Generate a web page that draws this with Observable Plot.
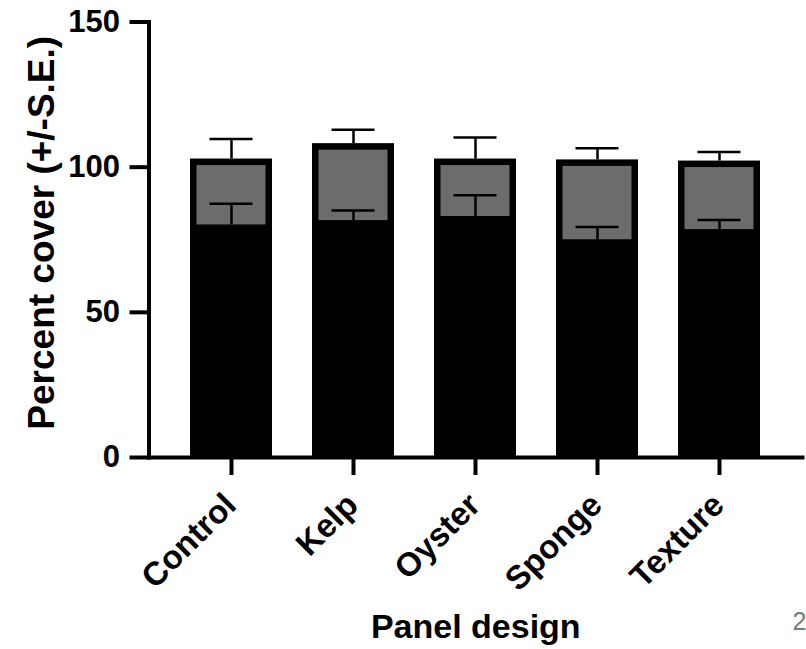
<!DOCTYPE html>
<html>
<head>
<meta charset="utf-8">
<script src="https://cdn.jsdelivr.net/npm/d3@7"></script>
<script src="https://cdn.jsdelivr.net/npm/@observablehq/plot@0.6"></script>
<style>
  html, body { margin: 0; padding: 0; background: #fff; }
  #chart { width: 806px; height: 649px; }
</style>
</head>
<body>
<div id="chart"></div>
<script>
// ---- data ----
const categories = ["Control", "Kelp", "Oyster", "Sponge", "Texture"];
// lower (black) component: mean and S.E.
const blackMean = [80.1, 81.6, 83.0, 75.0, 78.5];
const blackSE   = [7.3, 3.5, 7.3, 4.4, 3.3];
// upper (grey) component stacked on top: mean, and S.E. of the total
const greyMean  = [22.7, 26.5, 19.8, 27.5, 23.6];
const totalSE   = [6.9, 4.8, 7.4, 4.0, 3.1];
const yTicks = [0, 50, 100, 150];
const xTitle = "Panel design";
const yTitle = "Percent cover (+/-S.E.)";
const pageNote = "2";

const rows = categories.map((c, i) => ({
  cat: c,
  b: blackMean[i],
  bErr: blackMean[i] + blackSE[i],
  total: blackMean[i] + greyMean[i],
  tErr: blackMean[i] + greyMean[i] + totalSE[i]
}));

const FONT = "'Liberation Sans', Arial, Helvetica, sans-serif";

const chart = Plot.plot({
  width: 806,
  height: 649,
  marginLeft: 148.5,
  marginRight: 4,
  marginTop: 21.5,
  marginBottom: 192,
  style: {fontFamily: FONT, fontWeight: "bold", fontSize: "30px", color: "#000", background: "#fff"},
  x: {type: "band", domain: categories, range: [168.75, 781.25], paddingInner: 0.33, paddingOuter: 0.165, align: 0.5},
  y: {domain: [0, 150]},
  marks: [
    // full bar in black (forms the black lower part and the thick border)
    Plot.barY(rows, {x: "cat", y1: 0, y2: "total", fill: "#000"}),
    // grey upper component inside the border
    Plot.barY(rows, {x: "cat", y1: "b", y2: "total", fill: "#6c6c6c", insetLeft: 6.5, insetRight: 6.5, insetTop: 6.5}),
    // error bars: lower component
    Plot.ruleX(rows, {x: "cat", y1: "b", y2: "bErr", stroke: "#000", strokeWidth: 2.5}),
    Plot.tickY(rows, {x: "cat", y: "bErr", stroke: "#000", strokeWidth: 2.5, insetLeft: 19.5, insetRight: 19.5}),
    // error bars: total
    Plot.ruleX(rows, {x: "cat", y1: "total", y2: "tErr", stroke: "#000", strokeWidth: 2.5}),
    Plot.tickY(rows, {x: "cat", y: "tErr", stroke: "#000", strokeWidth: 2.5, insetLeft: 19.5, insetRight: 19.5}),
    // axis lines
    Plot.frame({anchor: "left", stroke: "#000", strokeWidth: 4, strokeLinecap: "square"}),
    Plot.frame({anchor: "bottom", stroke: "#000", strokeWidth: 4}),
    // y axis
    Plot.axisY({ticks: yTicks, tickSize: 19, tickPadding: 10, strokeWidth: 4, fontSize: 31, fontWeight: "bold", fill: "#000", label: null}),
    // x axis ticks (labels drawn separately)
    Plot.axisX({tickSize: 18, strokeWidth: 4, tickFormat: () => "", label: null}),
    // rotated category labels
    Plot.text(categories, {x: d => d, frameAnchor: "bottom", dx: -1, dy: 42, rotate: -45, textAnchor: "end", lineAnchor: "middle", fontSize: 33, fontWeight: "bold", fill: "#000"}),
    // axis titles
    Plot.text([xTitle], {text: d => d, frameAnchor: "bottom", dx: 0, dy: 180, textAnchor: "middle", lineAnchor: "bottom", fontSize: 34, fontWeight: "bold", fill: "#000"}),
    Plot.text([yTitle], {text: d => d, frameAnchor: "left", dx: 42 - 148.5, dy: -7, rotate: -90, textAnchor: "middle", lineAnchor: "middle", fontSize: 37, fontWeight: "bold", fill: "#000"}),
    // stray page number at the bottom right
    Plot.text([pageNote], {text: d => d, frameAnchor: "bottom-right", dx: -10, dy: 172, textAnchor: "start", lineAnchor: "bottom", fontSize: 25, fontWeight: "normal", fill: "#7a7a7a"})
  ]
});
document.getElementById("chart").appendChild(chart);
</script>
</body>
</html>
